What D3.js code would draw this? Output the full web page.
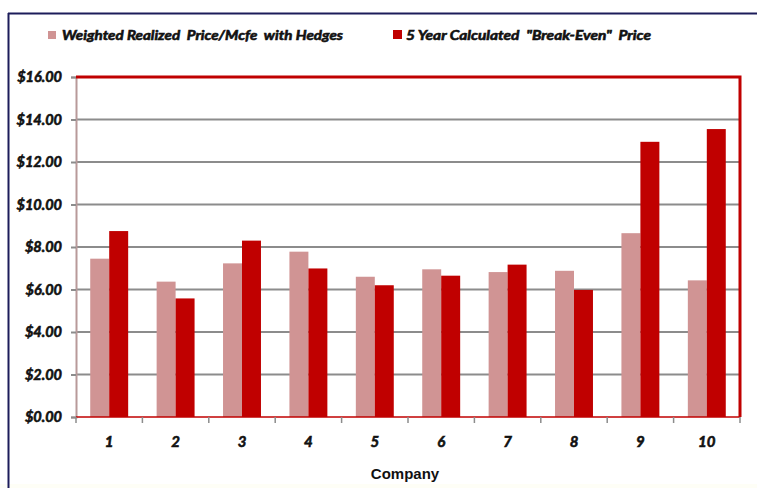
<!DOCTYPE html>
<html>
<head>
<meta charset="utf-8">
<script src="https://cdn.jsdelivr.net/npm/d3@7"></script>
<style>
  html, body { margin: 0; padding: 0; background: #ffffff; }
  svg { display: block; }
  .heavy { stroke: #111; stroke-width: 0.6px; paint-order: stroke; }
</style>
</head>
<body>
<script>
// Companies along the x axis
const companies = ["1", "2", "3", "4", "5", "6", "7", "8", "9", "10"];
// Weighted realized price per Mcfe including hedges ($)
const realizedPrice = [7.45, 6.37, 7.23, 7.78, 6.60, 6.95, 6.82, 6.88, 8.65, 6.43];
// Five-year calculated break-even price ($)
const breakEvenPrice = [8.75, 5.58, 8.30, 6.99, 6.20, 6.65, 7.17, 5.98, 12.95, 13.55];
// Series names shown in the legend
const seriesNames = ["Weighted Realized  Price/Mcfe  with Hedges", "5 Year Calculated  \"Break-Even\"  Price"];
// Y axis tick values
const yTicks = [0, 2, 4, 6, 8, 10, 12, 14, 16];

const W = 757, H = 488;
const colors = ["#d09494", "#c00000"];
const labelFont = "Lato, 'Open Sans', sans-serif";

const svg = d3.select("body").append("svg")
  .attr("width", W).attr("height", H);

// faint tinted strip at the bottom edge
svg.append("rect").attr("x", 0).attr("y", 484).attr("width", W).attr("height", 4)
  .attr("fill", "#fefef6");

// outer frame (top and left edges visible)
svg.append("line").attr("x1", 8).attr("x2", W).attr("y1", 13.5).attr("y2", 13.5)
  .attr("stroke", "#1c1c5a").attr("stroke-width", 2);
svg.append("line").attr("x1", 8.5).attr("x2", 8.5).attr("y1", 13).attr("y2", H)
  .attr("stroke", "#1c1c5a").attr("stroke-width", 2);

const plot = { left: 76, right: 740, top: 77, bottom: 417 };

const x = d3.scaleBand().domain(companies)
  .range([plot.left, plot.right]).paddingInner(0).paddingOuter(0);
const y = d3.scaleLinear().domain([0, 16]).range([plot.bottom, plot.top]);

// two bars per company, centred in the band
const barW = x.bandwidth() * 0.2857;
const groupOffset = (x.bandwidth() - 2 * barW) / 2;

// horizontal gridlines
svg.append("g").selectAll("line").data(yTicks.filter(d => d > 0 && d < 16)).join("line")
  .attr("x1", plot.left).attr("x2", plot.right)
  .attr("y1", d => y(d)).attr("y2", d => y(d))
  .attr("stroke", "#8c8c8c").attr("stroke-width", 2);

// y axis
const yAxis = svg.append("g").attr("transform", `translate(${plot.left},0)`)
  .call(d3.axisLeft(y).tickValues(yTicks).tickSize(5).tickPadding(9)
    .tickFormat(d => "$" + d3.format(".2f")(d)));
yAxis.select(".domain").attr("stroke", "#b89a9a").attr("stroke-width", 2);
yAxis.selectAll(".tick line").attr("stroke", "#8c8c8c").attr("stroke-width", 2);
yAxis.selectAll(".tick text")
  .attr("class", "heavy")
  .attr("font-family", labelFont).attr("font-weight", "bold").attr("font-style", "italic")
  .attr("font-size", 14.5).attr("fill", "#111");

// bars
const series = [realizedPrice, breakEvenPrice];
series.forEach((vals, si) => {
  svg.append("g").selectAll("rect").data(vals).join("rect")
    .attr("x", (d, i) => x(companies[i]) + groupOffset + si * barW)
    .attr("width", barW)
    .attr("y", d => y(d))
    .attr("height", d => y(0) - y(d))
    .attr("fill", colors[si]);
});

// zero baseline
svg.append("line").attr("x1", plot.left).attr("x2", plot.right)
  .attr("y1", y(0)).attr("y2", y(0)).attr("stroke", "#c00000").attr("stroke-width", 1.5);

// x axis labels, ticks at category boundaries
const xAxis = svg.append("g").attr("transform", `translate(0,${plot.bottom + 1})`)
  .call(d3.axisBottom(x).tickSize(0).tickPadding(18));
xAxis.select(".domain").remove();
xAxis.selectAll(".tick text")
  .attr("class", "heavy")
  .attr("font-family", labelFont).attr("font-weight", "bold").attr("font-style", "italic")
  .attr("font-size", 15).attr("fill", "#111");
const bounds = companies.map(c => x(c)).concat([plot.right]);
svg.append("g").selectAll("line").data(bounds).join("line")
  .attr("x1", d => d).attr("x2", d => d)
  .attr("y1", plot.bottom).attr("y2", plot.bottom + 6)
  .attr("stroke", "#8c8c8c").attr("stroke-width", 1.5);

// top and right border of the plot area
svg.append("path")
  .attr("d", `M${plot.left},${y(16)}H${plot.right}V${plot.bottom}`)
  .attr("fill", "none").attr("stroke", "#c00000").attr("stroke-width", 3);

// x axis title
svg.append("text").attr("x", 405).attr("y", 479).attr("text-anchor", "middle")
  .attr("font-family", "'Liberation Sans', Arial, sans-serif").attr("font-weight", "bold")
  .attr("font-size", 15).attr("fill", "#111").text("Company");

// legend
const legend = [
  { x: 48, sq: 8, tx: 62, w: 281 },
  { x: 393, sq: 9, tx: 406, w: 245 }
];
legend.forEach((l, i) => {
  svg.append("rect").attr("x", l.x).attr("y", 39 - l.sq).attr("width", l.sq).attr("height", l.sq)
    .attr("fill", colors[i]);
  svg.append("text").attr("x", l.tx).attr("y", 40)
    .attr("class", "heavy")
    .attr("font-family", labelFont).attr("font-weight", "bold").attr("font-style", "italic")
    .attr("font-size", 13.5).attr("fill", "#111")
    .attr("textLength", l.w).attr("lengthAdjust", "spacingAndGlyphs")
    .style("white-space", "pre")
    .text(seriesNames[i]);
});
</script>
</body>
</html>
